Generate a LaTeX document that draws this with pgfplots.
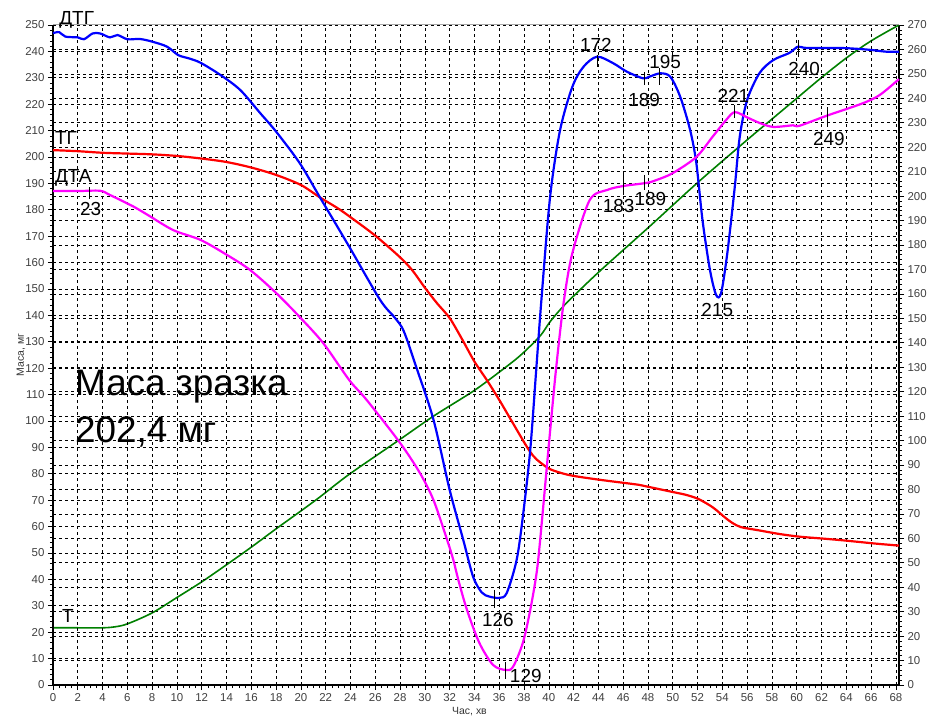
\documentclass[border=0pt]{standalone}
\usepackage{fontspec}
\setmainfont{Liberation Sans}
\usepackage{pgfplots}
\pgfplotsset{compat=1.18}
\definecolor{cT}{RGB}{0,128,0}
\definecolor{cTG}{RGB}{255,0,0}
\definecolor{cDTG}{RGB}{0,0,255}
\definecolor{cDTA}{RGB}{255,0,255}
\pgfplotsset{
  common/.style={
    scale only axis, width=846bp, height=660bp,
    xmin=0, xmax=68.25,
    axis line style={black, line width=1.6bp, -},
    grid style={black, line width=0.6bp, dash pattern=on 3bp off 3bp},
    tick align=outside,
    major tick length=5bp, minor tick length=3bp,
    tick style={black, line width=0.6bp},
    ticklabel style={font=\fontsize{11.5}{12}\selectfont, text=black!75},
    /pgf/number format/assume math mode=true,
    clip=false,
  }
}
\begin{document}
\begin{tikzpicture}
\useasboundingbox (-53bp,-33bp) rectangle (877bp,685bp);
% right axis: temperature
\begin{axis}[common,
  ymin=0, ymax=270,
  axis x line=none,
  axis y line*=right,
  ytick={0,10,...,270}, minor y tick num=4,
  ymajorgrids,
]
\addplot[cT, line width=1.6bp, smooth] coordinates {
(0,23.4) (2,23.4) (4,23.4) (5,23.8) (6,25) (8,29.5) (10,35.8) (12,42.2) (14,49.2)
(16,56.4) (18,63.9) (20,71.2) (21.5,76.8) (23.9,86.2) (28,100.5) (30.7,110)
(33.9,120.2) (36,128) (37.7,134.8) (39.3,142.8) (40.1,148.6) (41.3,155.6) (44,168.8)
(48,187) (52,205.5) (56,223) (58,231.5) (60,240) (62,248.5) (64,256.5) (66,263.5) (68.25,270)
};
\end{axis}
% left axis: mass
\begin{axis}[common,
  ymin=0, ymax=250,
  axis x line*=bottom, axis y line*=left,
  xtick={0,2,...,68}, minor x tick num=3,
  ytick={0,10,...,250}, minor y tick num=4,
  grid=major,
]
\draw[gray!70, line width=1bp] (rel axis cs:0,1) -- (rel axis cs:1,1);
% TG
\addplot[cTG, line width=2.2bp, smooth] coordinates {
(0,202.6) (2,202.2) (4,201.6) (6,201.3) (8,201) (10,200.4) (12,199.4) (14,198.1)
(16,196) (18,193.2) (20,189.4) (21.5,184.8) (23,180.5) (24,177.2) (26,170.2)
(28,162) (29,157) (30,150.5) (31,144.5) (32,139) (33,131) (34,122.5) (35,115.5)
(36,108) (37,100) (38,92) (38.5,88.3) (39,85.5) (40,82) (41,80.3) (42,79.2)
(44,77.8) (46,76.6) (47.3,75.8) (48,75.1) (50,73.1) (51,72.1) (52,70.6) (53,68)
(53.5,66.3) (54.2,63.5) (54.8,61.4) (55.5,59.8) (56.8,58.7) (58.6,57.2) (60.2,56.2)
(62,55.5) (63.5,54.9) (65,54.2) (66.5,53.5) (68.25,52.8)
};
% DTG
\addplot[cDTG, line width=2.2bp, smooth] coordinates {
(0,246.9) (0.5,247.3) (1,245.6) (2,245.3) (2.5,244.6) (3.2,246.8) (3.8,246.8)
(4.6,245.3) (5.2,246.2) (6,244.6) (7,244.7) (8,243.7) (9.2,241.8) (10.1,238.6)
(11,237.3) (11.9,235.7) (13.5,231.1) (15.1,225.4) (16.7,216.7) (18,209.6)
(19.9,197.7) (21.5,185) (23.9,166) (26.4,145.8) (27.6,139) (28.3,134) (29.3,120.5)
(30.7,100.4) (32,73.9) (33.1,54.9) (33.9,40.9) (34.6,35) (35.2,33.5) (36,33)
(36.6,34.8) (37.4,47.3) (37.9,63.6) (38.5,89) (39,120.5) (39.4,145.8) (40.1,184.8)
(40.9,210) (41.9,226.6) (42.8,234.2) (43.9,238) (45.2,235.5) (46.3,232.3)
(47.6,229.8) (48.1,230.4) (49,231.7) (49.8,230.4) (50.6,222.8) (51.4,210.2)
(51.9,197.7) (52.4,176) (53,157.2) (53.5,147.7) (53.9,148.5) (54.4,163.6)
(55,188.6) (55.4,207.6) (56,221.6) (57,231.8) (58.1,236.7) (59.4,239.4)
(60.1,241.8) (60.8,241.3) (63.5,241.3) (65.1,240.9) (66.1,240.5) (67.2,239.9) (68.25,239.9)
};
% DTA
\addplot[cDTA, line width=2.2bp, smooth] coordinates {
(0,187.1) (2,187.1) (3.8,187.2) (4.6,185.6) (6.5,181.2) (7.8,177.6) (9.7,172.3)
(11.9,168.6) (14,163) (15.9,157.2) (18,148.5) (19.9,139.4) (21.8,129.5)
(23.9,115.5) (25.3,108) (28,91.7) (29.6,80.3) (30.7,70) (31.8,54.9) (32.3,47.3)
(32.7,39.8) (33.4,28.4) (34.4,15.9) (35.5,7.6) (36.5,5.7) (37.1,6.8) (37.9,15.9)
(38.5,28.4) (39,42) (39.3,54.9) (40.1,96) (40.6,120.5) (41.2,145) (41.9,163.6)
(43.3,183.7) (44.7,187.5) (46,189) (47.9,190.2) (48.7,191.3) (50,193.9)
(51.9,200) (53.2,207.6) (54.3,214) (55,217) (56,215) (57,212.9) (58.1,211.4)
(59.7,212) (60.2,211.8) (62.4,215.6) (65.3,220.3) (66.7,223.5) (68.25,229.5)
};
% curve names
\begin{scope}[every node/.style={font=\fontsize{19}{20}\selectfont, inner sep=0pt}]
\node[anchor=base west] at (axis cs:0.5,250) {ДТГ};
\node[anchor=base west] at (axis cs:0.16,204.9) {ТГ};
\node[anchor=base west] at (axis cs:0.16,190.2) {ДТА};
\node[anchor=base west] at (axis cs:0.73,23.5) {Т};
\node[anchor=base west] at (axis cs:2.18,177.7) {23};
\node[anchor=base west] at (axis cs:34.6,22) {126};
\node[anchor=base west] at (axis cs:36.85,0.8) {129};
\node[anchor=base west] at (axis cs:42.5,239.8) {172};
\node[anchor=base west] at (axis cs:46.4,219.3) {189};
\node[anchor=base west] at (axis cs:48.1,233.7) {195};
\node[anchor=base west] at (axis cs:44.35,178.8) {183};
\node[anchor=base west] at (axis cs:46.9,181.8) {189};
\node[anchor=base west] at (axis cs:53.6,220.5) {221};
\node[anchor=base west] at (axis cs:52.3,139.4) {215};
\node[anchor=base west] at (axis cs:59.3,231) {240};
\node[anchor=base west] at (axis cs:61.3,204.2) {249};
\end{scope}
\begin{scope}[black, line width=0.8bp]
\draw (axis cs:2.9,188.5) -- (axis cs:2.9,184.0);
\draw (axis cs:35.6,36) -- (axis cs:35.6,29.2);
\draw (axis cs:36.5,8.7) -- (axis cs:36.5,2.3);
\draw (axis cs:43.9,238.6) -- (axis cs:43.9,234.1);
\draw (axis cs:47.7,232.2) -- (axis cs:47.7,227.3);
\draw (axis cs:48.9,233.7) -- (axis cs:48.9,227.3);
\draw (axis cs:46.0,193.2) -- (axis cs:46.0,185.6);
\draw (axis cs:47.7,193.2) -- (axis cs:47.7,187.5);
\draw (axis cs:55.0,219.7) -- (axis cs:55.0,214.8);
\draw (axis cs:60.1,244.3) -- (axis cs:60.1,237.9);
\draw (axis cs:62.5,219) -- (axis cs:62.5,211.4);
\end{scope}
\node[anchor=base west, inner sep=0pt, font=\fontsize{37}{40}\selectfont] at (axis cs:1.77,109.8) {Маса зразка};
\node[anchor=base west, inner sep=0pt, font=\fontsize{37}{40}\selectfont] at (axis cs:1.77,92) {202,4 мг};
\node[rotate=90, font=\fontsize{10.5}{11}\selectfont, text=black!80] at (axis cs:-2.58,125) {Маса, мг};
\node[font=\fontsize{10.5}{11}\selectfont, text=black!80] at (axis cs:33.6,-10.2) {Час, хв};
\end{axis}
\end{tikzpicture}
\end{document}
